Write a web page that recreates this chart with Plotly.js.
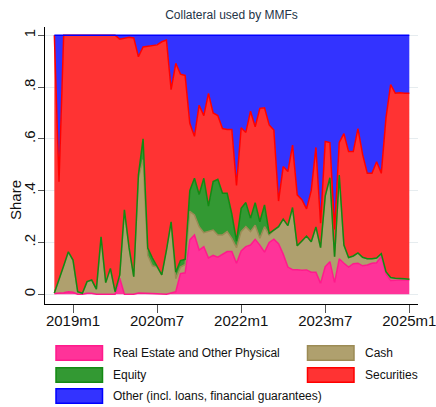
<!DOCTYPE html>
<html><head><meta charset="utf-8">
<script src="https://cdn.plot.ly/plotly-3.0.1.min.js"></script>
<style>html,body{margin:0;padding:0;background:#fff;} #chart{width:436px;height:407px;}</style>
</head><body><div id="chart"></div>
<script>
const months = ["2018m9","2018m10","2018m11","2018m12",
"2019m1","2019m2","2019m3","2019m4","2019m5","2019m6","2019m7","2019m8","2019m9","2019m10","2019m11","2019m12",
"2020m1","2020m2","2020m3","2020m4","2020m5","2020m6","2020m7","2020m8","2020m9","2020m10","2020m11","2020m12",
"2021m1","2021m2","2021m3","2021m4","2021m5","2021m6","2021m7","2021m8","2021m9","2021m10","2021m11","2021m12",
"2022m1","2022m2","2022m3","2022m4","2022m5","2022m6","2022m7","2022m8","2022m9","2022m10","2022m11","2022m12",
"2023m1","2023m2","2023m3","2023m4","2023m5","2023m6","2023m7","2023m8","2023m9","2023m10","2023m11","2023m12",
"2024m1","2024m2","2024m3","2024m4","2024m5","2024m6","2024m7","2024m8","2024m9","2024m10","2024m11","2024m12",
"2025m1"];

const realEstate = [.003,.004,.006,.01,.008,0,0,.004,.004,0,0,0,0,0,
.062,0,0,0,.005,.005,.003,.003,.002,0,0,.005,
.01,.08,.083,.21,.229,.171,.184,.14,.15,.143,.155,.165,
.165,.12,.167,.184,.19,.212,.19,.163,.2,.213,.195,.155,
.105,.095,.095,.093,.094,.085,.085,.042,.107,.126,.045,.137,
.12,.105,.118,.12,.11,.113,.12,.122,.147,.08,.053,.055,
.055,.055,.055];

const cash = [.002,.051,.104,.154,.124,.01,.004,.045,.051,.02,.222,.045,.1,.01,
.013,.326,.18,.068,.445,.515,.147,.107,.103,.075,.17,.275,
.05,.025,.032,.11,.077,.09,.054,.102,.098,.086,.074,.077,
.051,.06,.075,.077,.052,.055,.026,.098,.029,.035,.066,.135,
.16,.24,.092,.113,.131,.118,.175,.138,.273,.324,.10,.323,
.07,.037,.03,.04,.033,.024,.017,.018,.01,.007,.012,.007,
.007,.005,.003];

const equity = [0,0,0,0,0,0,0,0,0,0,0,0,0,0,0,0,0,0,
.01,.08,.028,.03,
0,0,0,0,
.025,.025,.02,.08,.142,.124,.21,.098,.187,.215,.161,.148,
.094,.025,.09,.093,.051,.087,.064,.084,.006,
0,0,0,0,0,0,0,0,0,0,0,0,0,0,0,0,0,0,0,0,0,0,0,0,0,0,0,0,0,0];

const securities = [.995,.38,.89,.836,.868,.99,.996,.951,.945,.98,.778,.955,.9,.99,
.91,.664,.812,.922,.457,.355,.78,.82,.858,.9,.812,.51,
.807,.72,.71,.26,.162,.345,.242,.436,.265,.246,.25,.246,
.326,.215,.311,.271,.414,.293,.438,.375,.419,.386,.099,.203,
.209,.241,.197,.159,.105,.197,.307,.094,.21,.136,.105,.126,
.43,.409,.403,.48,.397,.33,.33,.372,.31,.593,.745,.714,
.716,.716,.718];

const other = [0,.565,0,0,0,0,0,0,0,0,0,0,0,0,
.015,.01,.008,.01,.083,.045,.042,.04,.037,.025,.018,.21,
.108,.15,.155,.34,.39,.27,.31,.224,.30,.31,.36,.364,
.364,.58,.357,.375,.293,.353,.282,.28,.346,.366,.64,.507,
.526,.424,.616,.635,.67,.60,.433,.726,.41,.414,.75,.414,
.38,.449,.449,.36,.46,.533,.533,.488,.533,.32,.19,.224,
.222,.224,.224];

const xTickLabels = ["2019m1","2020m7","2022m1","2023m7","2025m1"];
const yTickVals = [0,.2,.4,.6,.8,1];
const yTickLabels = ["0",".2",".4",".6",".8","1"];
const seriesNames = ["Real Estate and Other Physical","Cash","Equity","Securities","Other (incl. loans, financial guarantees)"];

// month label -> months since 2019m1
function monthIndex(s){ const p = s.split('m'); return (parseInt(p[0],10)-2019)*12 + (parseInt(p[1],10)-1); }
const x = months.map(monthIndex);

const W = 436, H = 407, M = {l:45, r:18, t:27, b:103};
const pw = W - M.l - M.r, ph = H - M.t - M.b;
const px = X => (X - M.l) / pw;
const py = Y => (H - M.b - Y) / ph;

const styles = [
  {fill:'#FF3399', line:'#FF1A8C'},
  {fill:'#AFA06E', line:'#9C8B55'},
  {fill:'#339933', line:'#138A13'},
  {fill:'#FF3333', line:'#FF0000'},
  {fill:'#3333FF', line:'#0000FF'}
];
const values = [realEstate, cash, equity, securities, other];

const traces = values.map((v,k) => ({
  type:'scatter', mode:'lines', x:x, y:v, name:seriesNames[k],
  stackgroup:'one', fillcolor:styles[k].fill,
  line:{color:styles[k].line, width:1.5},
  hoverinfo:'skip', showlegend:false
}));

const FONT = 'Liberation Sans, Arial, sans-serif';

// legend (two columns, Stata style)
const legendCols = [56, 307.5];
const legendRows = [353, 375, 396];
const shapes = [], annotations = [];
seriesNames.forEach((name,k) => {
  const col = k % 2, row = Math.floor(k / 2);
  const X0 = legendCols[col], Yc = legendRows[row];
  shapes.push({type:'rect', xref:'paper', yref:'paper',
    x0:px(X0), x1:px(X0+46.5), y0:py(Yc-7.2), y1:py(Yc+7.2),
    fillcolor:styles[k].fill, line:{color:styles[k].line, width:1.5}});
  annotations.push({xref:'paper', yref:'paper', x:px(X0+55), y:py(Yc),
    xanchor:'left', yanchor:'middle', showarrow:false, text:name,
    font:{family:FONT, size:12, color:'#111'}});
});
annotations.push({xref:'paper', yref:'paper', x:px(15), y:py(200), textangle:-90,
  xanchor:'center', yanchor:'middle', showarrow:false, text:'Share',
  font:{family:FONT, size:15, color:'#111'}});

const layout = {
  width:W, height:H, margin:M,
  paper_bgcolor:'#fff', plot_bgcolor:'#fff',
  font:{family:FONT, color:'#111'},
  showlegend:false,
  title:{text:'Collateral used by MMFs', font:{family:FONT, size:12, color:'#243447'},
    x:0.5, xref:'paper', xanchor:'center', y:1-15/H, yref:'container', yanchor:'middle'},
  xaxis:{range:[-6,73.86], tickvals:xTickLabels.map(monthIndex), ticktext:xTickLabels,
    ticks:'outside', ticklen:8, tickcolor:'#555', showline:true, linecolor:'#000', linewidth:1,
    ticklabeloverflow:'allow', ticklabelstandoff:-5,
    showgrid:false, zeroline:false, tickfont:{family:FONT, size:15, color:'#111'}, fixedrange:true},
  yaxis:{range:[-0.0375,1.032], tickvals:yTickVals, ticktext:yTickLabels, tickangle:-90,
    ticks:'outside', ticklen:6, tickcolor:'#555', showline:true, linecolor:'#000', linewidth:1,
    ticklabelstandoff:-3,
    showgrid:true, gridcolor:'#e6ecef', gridwidth:1, zeroline:false,
    tickfont:{family:FONT, size:15, color:'#111'}, fixedrange:true},
  shapes:shapes, annotations:annotations
};

Plotly.newPlot('chart', traces, layout, {staticPlot:true, displayModeBar:false});
</script></body></html>
